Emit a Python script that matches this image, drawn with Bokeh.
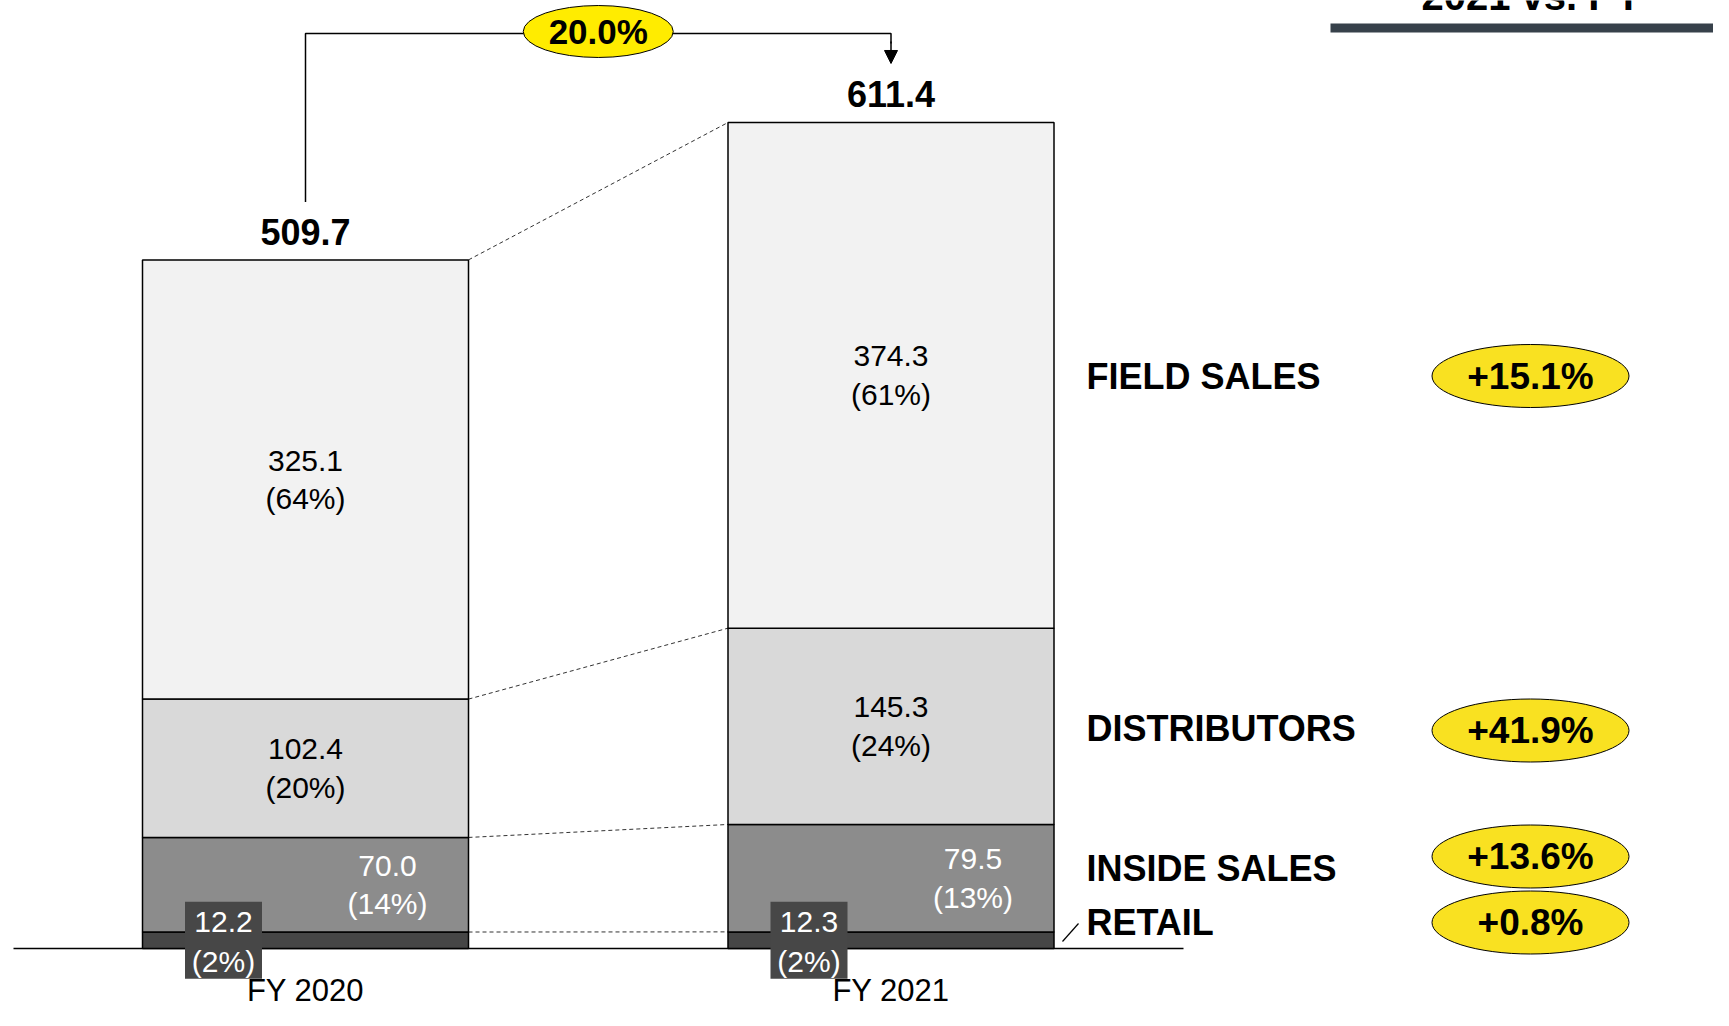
import numpy as np
from bokeh.plotting import figure
from bokeh.models import Range1d, Arrow, NormalHead
from bokeh.core.properties import value
from bokeh.embed import file_html
from bokeh.resources import INLINE

# ---------------- data ----------------
years = ["FY 2020", "FY 2021"]
segments = ["RETAIL", "INSIDE SALES", "DISTRIBUTORS", "FIELD SALES"]  # bottom -> top
retail = [12.2, 12.3]
inside_sales = [70.0, 79.5]
distributors = [102.4, 145.3]
field_sales = [325.1, 374.3]
totals = [509.7, 611.4]
retail_pct = [2, 2]
inside_pct = [14, 13]
distributors_pct = [20, 24]
field_pct = [64, 61]
segment_growth = [0.8, 13.6, 41.9, 15.1]  # bottom -> top
total_growth = 20.0
header_text = "2021 vs. PY"

# ---------------- layout ----------------
W, H = 1713, 1010
OX, OY = 0, 0
BASE_Y = 948.0          # screen y of value 0
PX = 1.351              # pixels per unit
bar_x = [305.0, 890.5]
bar_w = 326.0
FONT = value("Liberation Sans")


def sy(Y):
    return (BASE_Y - Y) / PX


p = figure(width=W, height=H, output_backend="svg", toolbar_location=None,
           x_range=Range1d(OX, OX + W), y_range=Range1d(sy(OY + H), sy(OY)),
           min_border=0, min_border_left=0, min_border_right=0,
           min_border_top=0, min_border_bottom=0,
           x_axis_location=None, y_axis_location=None)
p.outline_line_color = None
p.grid.visible = False
p.background_fill_color = "white"
p.border_fill_color = "white"

stack = np.array([retail, inside_sales, distributors, field_sales])
pcts = [retail_pct, inside_pct, distributors_pct, field_pct]
tops = np.cumsum(stack, axis=0)
bottoms = tops - stack
colors = ["#464646", "#8c8c8c", "#d9d9d9", "#f2f2f2"]

# dashed connectors between the bars
for k in range(4):
    p.line([bar_x[0] + bar_w / 2, bar_x[1] - bar_w / 2], [tops[k][0], tops[k][1]],
           line_color="#333333", line_width=1, line_dash="4 3")

# baseline
p.line([13, 1183], [0, 0], line_color="black", line_width=1.5)

# stacked bars
for k in range(4):
    p.vbar(x=bar_x, width=bar_w, bottom=bottoms[k], top=tops[k],
           fill_color=colors[k], line_color="black", line_width=1.5)

LINE = 19.0 / PX  # half line spacing in data units
# segment labels
for k in range(4):
    mids = (bottoms[k] + tops[k]) / 2
    vals = ["%.1f" % v for v in stack[k]]
    pc = ["(%d%%)" % v for v in pcts[k]]
    if k == 0:
        xs = [x - 82 for x in bar_x]
        p.rect(x=xs, y=list(mids), width=77, height=77, width_units="screen",
               height_units="screen", fill_color="#474747", line_color=None)
        col = "white"
        d1, d2 = 18.5 / PX, 21.5 / PX
    elif k == 1:
        xs = [x + 82 for x in bar_x]
        col = "white"
        d1, d2 = LINE, LINE
    else:
        xs = bar_x
        col = "black"
        d1, d2 = LINE, LINE
    p.text(x=xs, y=list(mids + d1), text=vals, text_font=FONT, text_font_size="30px",
           text_color=col, text_align="center", text_baseline="middle")
    p.text(x=xs, y=list(mids - d2), text=pc, text_font=FONT, text_font_size="30px",
           text_color=col, text_align="center", text_baseline="middle")

# totals
p.text(x=bar_x, y=[t + 28 / PX for t in totals], text=["%.1f" % t for t in totals],
       text_font=FONT, text_font_size="36px", text_font_style="bold",
       text_color="black", text_align="center", text_baseline="middle")

# category labels
p.text(x=bar_x, y=[sy(990)] * 2, text=years, text_font=FONT, text_font_size="31px",
       text_color="black", text_align="center", text_baseline="middle")

# growth arrow
top_y = sy(33)
p.line([bar_x[0], bar_x[0], bar_x[1], bar_x[1]],
       [totals[0] + 58 / PX, top_y, top_y, top_y - 10 / PX],
       line_color="black", line_width=1.5)
p.add_layout(Arrow(end=NormalHead(size=13, fill_color="black", line_color="black"),
                   x_start=bar_x[1], y_start=top_y - 8 / PX,
                   x_end=bar_x[1], y_end=totals[1] + 59 / PX,
                   line_color="black", line_width=1.5))
mid_x = (bar_x[0] + bar_x[1]) / 2
p.ellipse(x=[mid_x], y=[sy(31)], width=150, height=52, width_units="screen",
          height_units="screen", fill_color="#ffec00", line_color="black", line_width=1)
p.text(x=[mid_x], y=[sy(31)], text=["%.1f%%" % total_growth], text_font=FONT,
       text_font_size="35px", text_font_style="bold", text_color="black",
       text_align="center", text_baseline="middle")

# right-hand legend labels and growth ellipses
label_y = [922, 868, 728, 376]
ell_y = [922, 856, 730, 375.5]
p.text(x=[1086] * 4, y=[sy(v) for v in label_y], text=segments, text_font=FONT,
       text_font_size="36px", text_font_style="bold", text_color="black",
       text_align="left", text_baseline="middle")
p.ellipse(x=[1530] * 4, y=[sy(v) for v in ell_y], width=197, height=63,
          width_units="screen", height_units="screen", fill_color="#f9e121",
          line_color="black", line_width=1)
p.text(x=[1530] * 4, y=[sy(v) for v in ell_y], text=["+%.1f%%" % g for g in segment_growth],
       text_font=FONT, text_font_size="37px", text_font_style="bold", text_color="black",
       text_align="center", text_baseline="middle")
p.line([1062, 1078], [sy(941), sy(923)], line_color="black", line_width=1.2)

# header (clipped at the top, only the lower part of the letters shows)
p.line([1330, OX + W], [sy(27.5)] * 2, line_color="#37414b", line_width=9)
p.text(x=[1531], y=[sy(4)], text=[header_text], text_font=FONT, text_font_size="40px",
       text_font_style="bold", text_color="black", text_align="center",
       text_baseline="middle", y_offset=-9)

open("out.html", "w").write(file_html(p, INLINE))
